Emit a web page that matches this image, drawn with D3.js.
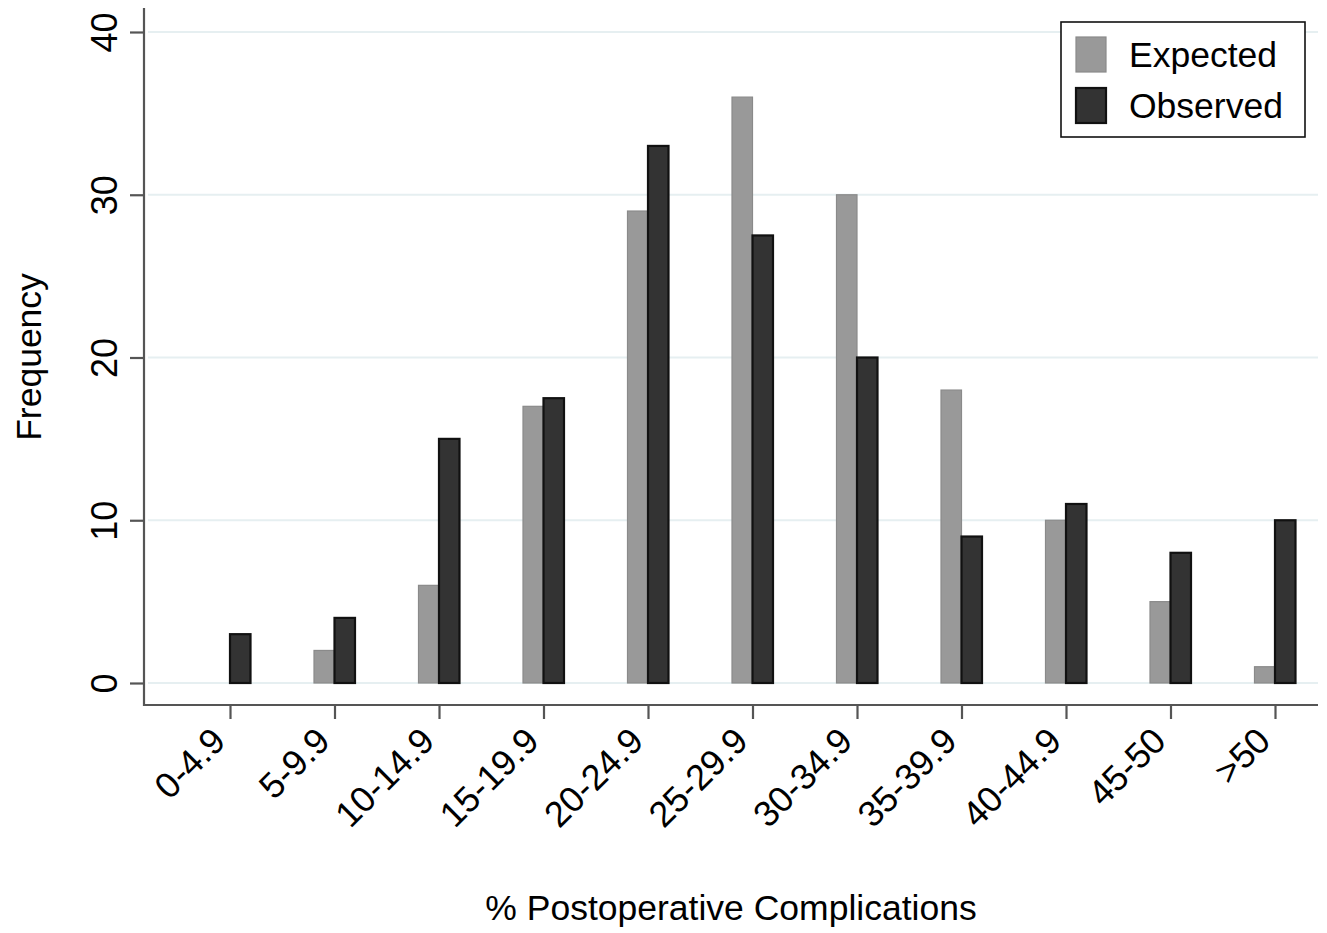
<!DOCTYPE html>
<html><head><meta charset="utf-8">
<script src="https://cdn.jsdelivr.net/npm/d3@7"></script>
<style>
html,body{margin:0;padding:0;background:#fff;}
svg{display:block;font-family:"Liberation Sans",Arial,sans-serif;}
</style></head>
<body><svg id="c" width="1327" height="933"></svg>
<script>
const categories = ["0-4.9","5-9.9","10-14.9","15-19.9","20-24.9","25-29.9","30-34.9","35-39.9","40-44.9","45-50",">50"];
const expected = [0, 2, 6, 17, 29, 36, 30, 18, 10, 5, 1];
const observed = [3, 4, 15, 17.5, 33, 27.5, 20, 9, 11, 8, 10];
const yTicks = [0, 10, 20, 30, 40];
const seriesNames = ["Expected", "Observed"];
const xTitle = "% Postoperative Complications";
const yTitle = "Frequency";

const svg = d3.select("#c");
const x = d3.scalePoint().domain(categories).range([230, 1275]);
const y = d3.scaleLinear().domain([0, 40]).range([683, 32]);
const bw = 20.5;
const colors = {Expected: {fill: "#999999", stroke: "#8a8a8a", sw: 1.2}, Observed: {fill: "#333333", stroke: "#111111", sw: 2.2}};

// grid
svg.append("g").selectAll("line").data(yTicks).join("line")
  .attr("x1", 148).attr("x2", 1318)
  .attr("y1", d => y(d)).attr("y2", d => y(d))
  .attr("stroke", "#e6eff1").attr("stroke-width", 2);

// bars
const rows = categories.map((c, i) => ({c, e: expected[i], o: observed[i]}));
svg.append("g").selectAll("rect").data(rows.filter(d => d.e > 0)).join("rect")
  .attr("x", d => x(d.c) - bw).attr("width", bw)
  .attr("y", d => y(d.e)).attr("height", d => y(0) - y(d.e))
  .attr("fill", colors.Expected.fill).attr("stroke", colors.Expected.stroke).attr("stroke-width", colors.Expected.sw);
svg.append("g").selectAll("rect").data(rows.filter(d => d.o > 0)).join("rect")
  .attr("x", d => x(d.c)).attr("width", bw)
  .attr("y", d => y(d.o)).attr("height", d => y(0) - y(d.o))
  .attr("fill", colors.Observed.fill).attr("stroke", colors.Observed.stroke).attr("stroke-width", colors.Observed.sw);

// y axis
const yAxis = d3.axisLeft(y).tickValues(yTicks).tickSize(14).tickPadding(0).tickSizeOuter(0);
const gy = svg.append("g").attr("transform", "translate(144,0)").call(yAxis);
gy.select(".domain").remove();
gy.append("line").attr("x1", 0).attr("x2", 0).attr("y1", 8).attr("y2", 706).attr("stroke", "#555").attr("stroke-width", 2.2);
gy.selectAll(".tick line").attr("stroke", "#555").attr("stroke-width", 2.2);
gy.selectAll(".tick text")
  .attr("x", null).attr("dy", null)
  .attr("transform", "translate(-27,0) rotate(-90)")
  .attr("text-anchor", "middle")
  .attr("fill", "#000").style("font-size", "36px").style("font-family", "Liberation Sans, Arial, sans-serif");

// x axis
const xAxis = d3.axisBottom(x).tickSize(14).tickSizeOuter(0);
const gx = svg.append("g").attr("transform", "translate(0,705)").call(xAxis);
gx.select(".domain").remove();
gx.append("line").attr("x1", 143).attr("x2", 1318).attr("y1", 0).attr("y2", 0).attr("stroke", "#555").attr("stroke-width", 2.2);
gx.selectAll(".tick line").attr("stroke", "#555").attr("stroke-width", 2.2);
gx.selectAll(".tick text")
  .attr("y", null).attr("dy", null)
  .attr("transform", "translate(-3,38) rotate(-45)")
  .attr("text-anchor", "end")
  .attr("dominant-baseline", "auto")
  .attr("fill", "#000").style("font-size", "36px").style("font-family", "Liberation Sans, Arial, sans-serif");

// titles
svg.append("text").attr("x", 731).attr("y", 920).attr("text-anchor", "middle")
  .style("font-size", "35.5px").text(xTitle);
svg.append("text").attr("transform", "translate(41,357) rotate(-90)").attr("text-anchor", "middle")
  .style("font-size", "35.5px").text(yTitle);

// legend
const lg = svg.append("g");
lg.append("rect").attr("x", 1061).attr("y", 22).attr("width", 244).attr("height", 115)
  .attr("fill", "#fff").attr("stroke", "#111").attr("stroke-width", 1.6);
seriesNames.forEach((s, i) => {
  lg.append("rect").attr("x", 1076).attr("y", 37 + i * 51).attr("width", 30).attr("height", 35)
    .attr("fill", colors[s].fill).attr("stroke", colors[s].stroke).attr("stroke-width", colors[s].sw);
  lg.append("text").attr("x", 1129).attr("y", 67 + i * 51).style("font-size", "35.5px").text(s);
});
</script></body></html>
